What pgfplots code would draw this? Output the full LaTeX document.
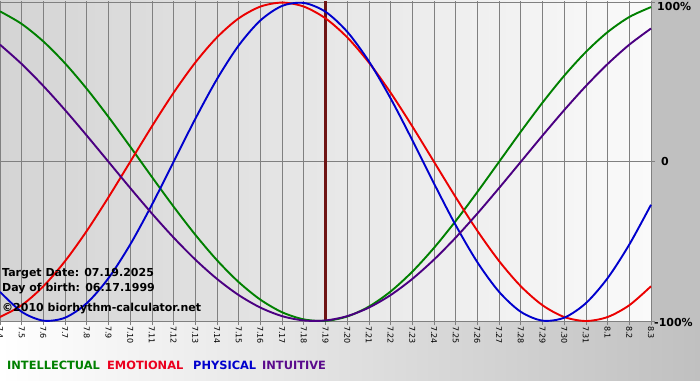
\documentclass[border=0pt]{standalone}
\usepackage{pgfplots}
\pgfplotsset{compat=1.18}
\usepackage{pgfplotstable}
\usepackage{fontspec}
\setmainfont{DejaVu Sans}
\definecolor{cgray}{RGB}{192,192,192}
\definecolor{cgrid}{RGB}{128,128,128}
\definecolor{cintel}{RGB}{0,128,0}
\definecolor{cemo}{RGB}{235,0,0}
\definecolor{cphys}{RGB}{0,0,205}
\definecolor{cintu}{RGB}{75,0,130}
\definecolor{ctarget}{RGB}{110,20,20}
\definecolor{lintel}{RGB}{0,128,0}
\definecolor{lemo}{RGB}{235,0,30}
\definecolor{lphys}{RGB}{0,0,205}
\definecolor{lintu}{RGB}{90,10,140}
\pgfplotstableread{
d intel emo phys intu
0 0.9450 -0.9749 -0.8170 0.7357
1 0.8660 -0.9010 -0.9423 0.6142
2 0.7557 -0.7818 -0.9977 0.4759
3 0.6182 -0.6235 -0.9791 0.3247
4 0.4582 -0.4339 -0.8879 0.1646
5 0.2817 -0.2225 -0.7308 0.0000
6 0.0951 0.0000 -0.5196 -0.1646
7 -0.0951 0.2225 -0.2698 -0.3247
8 -0.2817 0.4339 0.0000 -0.4759
9 -0.4582 0.6235 0.2698 -0.6142
10 -0.6182 0.7818 0.5196 -0.7357
11 -0.7557 0.9010 0.7308 -0.8372
12 -0.8660 0.9749 0.8879 -0.9158
13 -0.9450 1.0000 0.9791 -0.9694
14 -0.9898 0.9749 0.9977 -0.9966
15 -0.9989 0.9010 0.9423 -0.9966
16 -0.9718 0.7818 0.8170 -0.9694
17 -0.9096 0.6235 0.6311 -0.9158
18 -0.8146 0.4339 0.3984 -0.8372
19 -0.6901 0.2225 0.1362 -0.7357
20 -0.5406 0.0000 -0.1362 -0.6142
21 -0.3717 -0.2225 -0.3984 -0.4759
22 -0.1893 -0.4339 -0.6311 -0.3247
23 0.0000 -0.6235 -0.8170 -0.1646
24 0.1893 -0.7818 -0.9423 0.0000
25 0.3717 -0.9010 -0.9977 0.1646
26 0.5406 -0.9749 -0.9791 0.3247
27 0.6901 -1.0000 -0.8879 0.4759
28 0.8146 -0.9749 -0.7308 0.6142
29 0.9096 -0.9010 -0.5196 0.7357
30 0.9718 -0.7818 -0.2698 0.8372
}\biodata
\begin{document}
\begin{tikzpicture}
\useasboundingbox (0pt,0pt) rectangle (700pt,380pt);
\shade[left color=white, right color=cgray] (0pt,0pt) rectangle (700pt,60pt);
\fill[cgray] (651pt,59pt) rectangle (700pt,380pt);
\begin{axis}[
  at={(0pt,59pt)}, anchor=south west,
  scale only axis, width=651pt, height=320pt,
  xmin=0, xmax=30, ymin=-1, ymax=1.01,
  clip=false,
  axis background/.style={left color={rgb,255:red,212;green,212;blue,212}, right color={rgb,255:red,250;green,250;blue,250}},
  axis line style={draw=none},
  xtick={0,...,30},
  xticklabels={7.4,7.5,7.6,7.7,7.8,7.9,7.10,7.11,7.12,7.13,7.14,7.15,7.16,7.17,7.18,7.19,7.20,7.21,7.22,7.23,7.24,7.25,7.26,7.27,7.28,7.29,7.30,7.31,8.1,8.2,8.3},
  xtick pos=bottom,
  ytick={-1,0,1},
  yticklabels={},
  ytick pos=right,
  tick align=outside,
  major tick length=4pt,
  tick style={draw=cgrid, line width=0.8pt},
  xmajorgrids, ymajorgrids,
  grid style={draw=cgrid, line width=0.8pt},
  xticklabel style={rotate=-90, anchor=west, font=\fontsize{8}{9}\selectfont, inner sep=1pt},
  /pgf/number format/assume math mode=true,
]
\addplot[ctarget, line width=2.2pt] coordinates {(15,-1) (15,1.01)};
\addplot[cintel, line width=1.9pt, smooth] table[x=d, y=intel] {\biodata};
\addplot[cemo, line width=1.9pt, smooth] table[x=d, y=emo] {\biodata};
\addplot[cphys, line width=1.9pt, smooth] table[x=d, y=phys] {\biodata};
\addplot[cintu, line width=1.9pt, smooth] table[x=d, y=intu] {\biodata};
\end{axis}
\begin{scope}[font=\fontsize{11}{13}\selectfont\bfseries]
\node[anchor=base west, inner sep=0] at (2pt,103pt) {Target Date: 07.19.2025};
\node[anchor=base west, inner sep=0] at (2pt,89pt) {Day of birth: 06.17.1999};
\node[anchor=base west, inner sep=0] at (2pt,69pt) {©2010 biorhythm-calculator.net};
\node[anchor=west, inner sep=0] at (657pt,373pt) {100\%};
\node[anchor=west, inner sep=0] at (661pt,219pt) {0};
\node[anchor=west, inner sep=0] at (654pt,58pt) {-100\%};
\end{scope}
\begin{scope}[font=\fontsize{11.4}{13}\selectfont\bfseries]
\node[anchor=base west, inner sep=0, text=lintel] at (7pt,11pt) {INTELLECTUAL};
\node[anchor=base west, inner sep=0, text=lemo] at (107pt,11pt) {EMOTIONAL};
\node[anchor=base west, inner sep=0, text=lphys] at (193pt,11pt) {PHYSICAL};
\node[anchor=base west, inner sep=0, text=lintu] at (262pt,11pt) {INTUITIVE};
\end{scope}
\end{tikzpicture}
\end{document}
